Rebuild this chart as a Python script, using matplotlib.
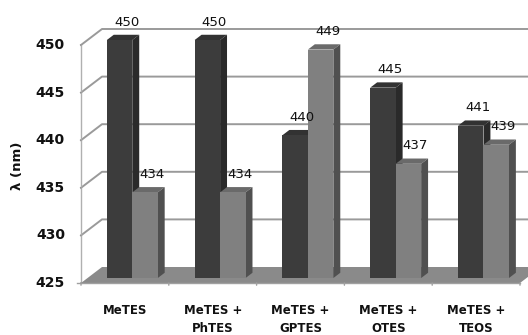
"""Excel-style 3D clustered column chart of emission wavelength per silane blend."""
import matplotlib
matplotlib.use("Agg")
import matplotlib.pyplot as plt
from matplotlib.patches import Polygon

categories = ["MeTES", "MeTES +\nPhTES", "MeTES +\nGPTES", "MeTES +\nOTES", "MeTES +\nTEOS"]
series_dark = [450, 450, 440, 445, 441]
series_light = [434, 434, 449, 437, 439]
y_ticks = [425, 430, 435, 440, 445, 450]
y_label = "λ (nm)"

# layout in pixels (figure is 528 x 335)
W, H = 528, 335
X0_PX = 81          # front vertical axis
CAT_PX = 87.8       # width of one category on the front plane
Y425_PX = 283       # y of the floor front edge (from top)
UNIT_PX = 9.52      # pixels per nm
DEPTH_DX, DEPTH_DY = 21, 16   # projection of the full depth

# data limits derived from the pixel layout
xlim = (-X0_PX / CAT_PX, (W - X0_PX) / CAT_PX)
ylim = (y_ticks[0] - (H - Y425_PX) / UNIT_PX, y_ticks[0] + Y425_PX / UNIT_PX)
ddx = DEPTH_DX / CAT_PX
ddy = DEPTH_DY / UNIT_PX


def proj(c, v, d):
    """Category/value/depth -> 2D data coordinates."""
    return (c + d * ddx, v + d * ddy)


fig = plt.figure(figsize=(W / 100, H / 100), dpi=100)
ax = fig.add_axes([0, 0, 1, 1])
ax.set_xlim(*xlim)
ax.set_ylim(*ylim)
ax.axis("off")

n = len(categories)
base = y_ticks[0]
grid_col = "#9a9a9a"

# back wall gridlines and the diagonals to the front axis
for v in y_ticks[1:]:
    ax.plot(*zip(proj(0, v, 0), proj(0, v, 1), proj(n + 1, v, 1)),
            color=grid_col, lw=1.4, zorder=1)
# front vertical axis + ticks
ax.plot(*zip(proj(0, base, 0), proj(0, y_ticks[-1], 0)), color="#b0b0b0", lw=1, zorder=1)
for v in y_ticks:
    ax.annotate("", xy=proj(0, v, 0), xytext=(-3, 0), textcoords="offset pixels",
                arrowprops=dict(arrowstyle="-", color="#909090", lw=1))
    ax.annotate(str(v), xy=proj(0, v, 0), xytext=(-16, 0), textcoords="offset pixels",
                ha="right", va="center", fontsize=10, fontweight="bold", color="#111111")

# floor
floor = [proj(0, base, 0), proj(n, base, 0), proj(n, base, 1), proj(0, base, 1)]
ax.add_patch(Polygon(floor, closed=True, facecolor="#8a8a8a", edgecolor="none", zorder=2))
# category axis line + ticks
ax.plot(*zip(proj(-0.05, base, 0), proj(n, base, 0)), color="#a0a0a0", lw=1, zorder=2)
for k in range(n + 1):
    ax.annotate("", xy=proj(k, base, 0), xytext=(0, -5), textcoords="offset pixels",
                arrowprops=dict(arrowstyle="-", color="#a0a0a0", lw=1))

# bars
bar_w = 0.29
d0, dt = 0.31, 0.33
styles = [
    dict(front="#3c3c3c", side="#2a2a2a", top="#323232", left=0.22),
    dict(front="#808080", side="#505050", top="#6a6a6a", left=0.51),
]


def draw_bar(x, v, st, z):
    x1 = x + bar_w
    front = [proj(x, base, d0), proj(x1, base, d0), proj(x1, v, d0), proj(x, v, d0)]
    side = [proj(x1, base, d0), proj(x1, base, d0 + dt), proj(x1, v, d0 + dt), proj(x1, v, d0)]
    top = [proj(x, v, d0), proj(x1, v, d0), proj(x1, v, d0 + dt), proj(x, v, d0 + dt)]
    ax.add_patch(Polygon(top, closed=True, facecolor=st["top"], edgecolor="none", zorder=z))
    ax.add_patch(Polygon(side, closed=True, facecolor=st["side"], edgecolor="none", zorder=z))
    ax.add_patch(Polygon(front, closed=True, facecolor=st["front"], edgecolor="none", zorder=z))
    ax.annotate(str(v), xy=proj(x + bar_w / 2, v, d0), xytext=(7, 18),
                textcoords="offset pixels", ha="center", va="center",
                fontsize=9.5, color="#111111", zorder=10)


z = 3
for i in range(n):
    for vals, st in zip((series_dark, series_light), styles):
        draw_bar(i + st["left"], vals[i], st, z)
        z += 1

# category labels
for i, lab in enumerate(categories):
    ax.annotate(lab, xy=proj(i + 0.5, base, 0), xytext=(0, -21), textcoords="offset pixels",
                ha="center", va="top", multialignment="center", linespacing=1.5,
                fontsize=8.5, fontweight="bold", color="#111111")

fig.text(18 / W, 1 - 166 / H, y_label, rotation=90, ha="center", va="center",
         fontsize=9.5, fontweight="bold", color="#111111")

fig.savefig("out.png", dpi=100)
